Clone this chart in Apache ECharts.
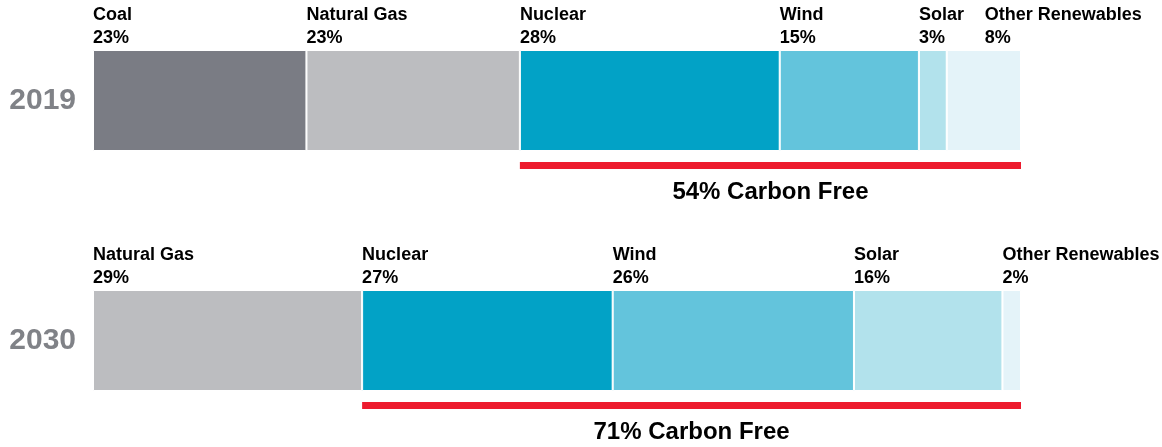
<!DOCTYPE html>
<html><head><meta charset="utf-8">
<script src="https://cdn.jsdelivr.net/npm/echarts@6/dist/echarts.min.js"></script>
<style>html,body{margin:0;padding:0;background:#fff}#c{width:1162px;height:447px}</style>
</head><body><div id="c"></div>
<script>
const years = ['2019', '2030'];
const sources2019 = ['Coal', 'Natural Gas', 'Nuclear', 'Wind', 'Solar', 'Other Renewables'];
const values2019 = [23, 23, 28, 15, 3, 8];
const sources2030 = ['Natural Gas', 'Nuclear', 'Wind', 'Solar', 'Other Renewables'];
const values2030 = [29, 27, 26, 16, 2];
const carbonFreeSources = ['Nuclear', 'Wind', 'Solar', 'Other Renewables'];

const colors = {
  'Coal': '#7a7c84',
  'Natural Gas': '#bcbdc0',
  'Nuclear': '#02a2c6',
  'Wind': '#63c4dc',
  'Solar': '#b2e2ec',
  'Other Renewables': '#e4f3f9'
};
// horizontal nudge for labels that would collide (layout only)
const labelNudge = { '2019|Other Renewables': 38 };
const FONT = '"Liberation Sans", Arial, sans-serif';

const chart = echarts.init(document.getElementById('c'));
const yearData = [[sources2019, values2019], [sources2030, values2030]];
const barTops = [50, 290];
const grids = [], xAxes = [], yAxes = [], series = [];

yearData.forEach(([srcs, vals], i) => {
  const gBar = i * 2, gLine = i * 2 + 1;
  grids.push({ left: 93, right: 141, top: barTops[i], height: 101 });
  grids.push({ left: 93, right: 141, top: barTops[i] + 112, height: 7 });
  [gBar, gLine].forEach(g => {
    xAxes.push({ gridIndex: g, type: 'value', min: 0, max: 100, show: false });
  });
  yAxes.push({
    gridIndex: gBar, type: 'category', data: [years[i]],
    axisLine: { show: false }, axisTick: { show: false },
    axisLabel: { show: true, margin: 17, fontFamily: FONT, fontWeight: 'bold', fontSize: 30, color: '#808287' }
  });
  yAxes.push({ gridIndex: gLine, type: 'category', data: [years[i]], show: false });

  srcs.forEach((s, k) => {
    const nudge = labelNudge[years[i] + '|' + s] || 0;
    series.push({
      type: 'bar', name: s + ' ' + years[i], stack: 'y' + i,
      xAxisIndex: gBar, yAxisIndex: gBar, barWidth: '100%',
      data: [vals[k]],
      itemStyle: { color: colors[s], borderColor: '#ffffff', borderWidth: 1 },
      label: {
        show: true, position: [nudge, 0], align: 'left', verticalAlign: 'bottom',
        fontFamily: FONT, fontWeight: 'bold', fontSize: 18, lineHeight: 23, color: '#000',
        formatter: () => s + '\n' + vals[k] + '%'
      },
      silent: true
    });
  });

  let cf = 0, other = 0;
  srcs.forEach((s, k) => { if (carbonFreeSources.includes(s)) cf += vals[k]; else other += vals[k]; });
  series.push({
    type: 'bar', stack: 'line' + i, xAxisIndex: gLine, yAxisIndex: gLine, barWidth: '100%',
    data: [other], itemStyle: { color: 'transparent' }, silent: true
  });
  series.push({
    type: 'bar', stack: 'line' + i, xAxisIndex: gLine, yAxisIndex: gLine, barWidth: '100%',
    data: [cf], itemStyle: { color: '#ed1b2e' }, silent: true,
    label: {
      show: true, position: 'bottom', distance: 11,
      fontFamily: FONT, fontWeight: 'bold', fontSize: 24, color: '#000',
      formatter: () => cf + '% Carbon Free'
    }
  });
});

chart.setOption({
  animation: false,
  grid: grids, xAxis: xAxes, yAxis: yAxes, series: series
});
</script></body></html>
